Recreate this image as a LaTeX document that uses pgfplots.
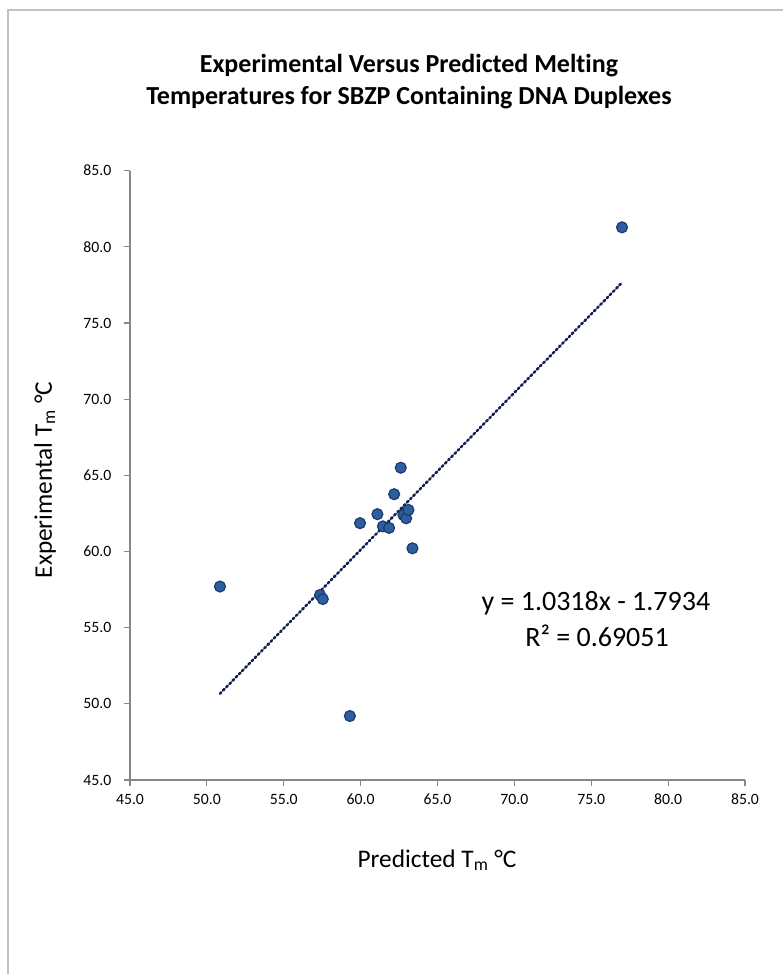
\documentclass[border=0pt]{standalone}
\usepackage{pgfplots}
\pgfplotsset{compat=1.18}
\usepackage{fontspec}
\setmainfont{Carlito}[Ligatures=NoCommon]
\definecolor{axgray}{RGB}{134,134,134}
\definecolor{framegray}{RGB}{195,195,195}
\definecolor{ptfill}{RGB}{46,94,160}
\definecolor{ptedge}{RGB}{24,60,112}
\definecolor{trend}{RGB}{20,30,80}
\begin{document}
\begin{tikzpicture}[x=0.75pt,y=0.75pt]
\path[use as bounding box] (0,0) rectangle (783,974);
\draw[framegray,line width=1.5pt] (8,0) -- (8,964) -- (783,964);
\node[font=\fontsize{19.5}{24}\selectfont\bfseries,align=center] at (409,892) {Experimental Versus Predicted Melting\\Temperatures for SBZP Containing DNA Duplexes};
\node[font=\fontsize{19}{22}\selectfont,rotate=90] at (45,494) {Experimental T\textsubscript{m} °C};
\node[font=\fontsize{19}{22}\selectfont] at (437,114) {Predicted T\textsubscript{m} °C};
\begin{axis}[
  at={(97.5pt,145.5pt)}, anchor=origin,
  scale only axis, width=461.25pt, height=457pt,
  xmin=45, xmax=85, ymin=45, ymax=85,
  xtick={45,50,...,85}, ytick={45,50,...,85},
  axis x line*=bottom, axis y line*=left,
  axis line style={axgray,line width=0.9pt,-},
  tick style={axgray,line width=0.9pt},
  tick align=outside, major tick length=4.5pt,
  /pgf/number format/fixed,
  /pgf/number format/fixed zerofill,
  /pgf/number format/precision=1,
  /pgf/number format/assume math mode=true,
  ticklabel style={font=\fontsize{11.8}{13}\selectfont},
  xticklabel style={yshift=-2.5pt},
  yticklabel style={xshift=-6pt},
  clip=false,
]
\addplot[trend, line width=1.9pt, dash pattern=on 1.5pt off 1.9pt, line cap=round] coordinates {(50.85,50.67) (77.0,77.65)};
\addplot[only marks, mark=*, mark size=4.1pt, mark options={fill=ptfill, draw=ptedge, line width=0.9pt}] coordinates {
(50.85,57.7)
(57.36,57.15)
(57.54,56.88)
(59.3,49.2)
(59.96,61.86)
(61.09,62.45)
(61.45,61.65)
(61.85,61.55)
(62.18,63.76)
(62.61,65.5)
(62.78,62.4)
(62.96,62.18)
(63.11,62.73)
(63.37,60.21)
(77.0,81.28)
};
\node[font=\fontsize{21}{25}\selectfont] at (axis cs:75.3,56.62) {y = 1.0318x - 1.7934};
\node[font=\fontsize{21}{25}\selectfont] at (axis cs:75.38,54.45) {R² = 0.69051};
\end{axis}
\end{tikzpicture}
\end{document}
